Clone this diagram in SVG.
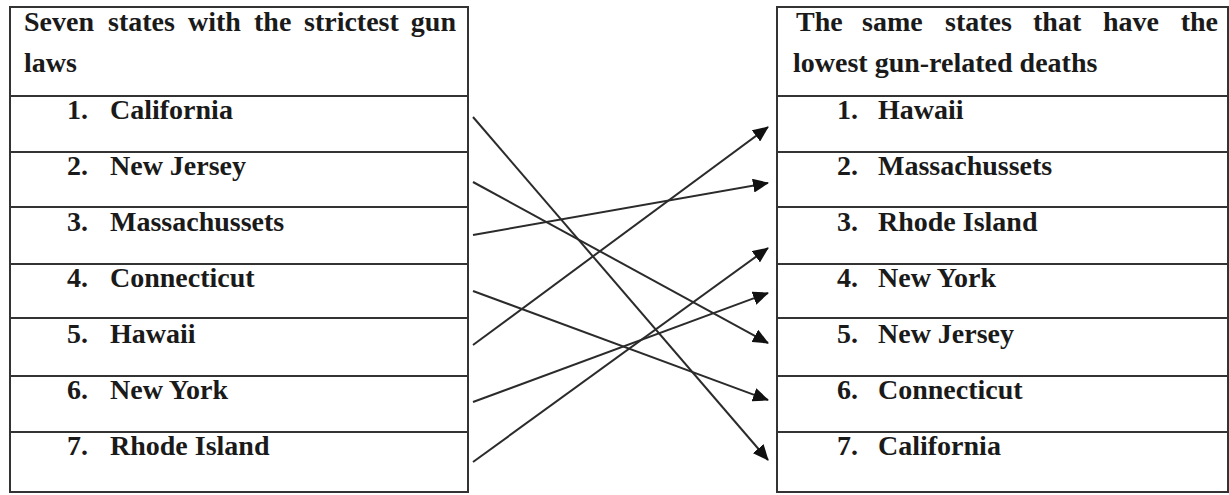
<svg xmlns="http://www.w3.org/2000/svg" width="1229" height="495" viewBox="0 0 1229 495">
<style>
.t{font-family:"Liberation Serif","Times New Roman",serif;font-weight:bold;font-size:28px;fill:#1a1a1a}
.b{fill:none;stroke:#333;stroke-width:2}
.c{stroke:#2b2b2b;stroke-width:2;fill:none}
</style>
<defs>
<marker id="ah" markerUnits="userSpaceOnUse" markerWidth="16" markerHeight="14" refX="15" refY="7" orient="auto">
<path d="M0,0 L16,7 L0,14 Z" fill="#111"/>
</marker>
</defs>
<rect width="1229" height="495" fill="#fff"/>
<g id="left-table">
<rect class="b" x="10" y="7" width="458" height="485"/>
<path class="b" d="M10,96H468M10,152H468M10,207H468M10,264H468M10,318H468M10,376H468M10,432H468"/>
<g id="left-header">
<text class="t" x="24" y="31">Seven</text>
<text class="t" x="108" y="31">states</text>
<text class="t" x="188" y="31">with</text>
<text class="t" x="254" y="31">the</text>
<text class="t" x="304" y="31">strictest</text>
<text class="t" x="456" y="31" text-anchor="end">gun</text>
<text class="t" x="24" y="72">laws</text>
</g>
<g id="L1"><text class="t" x="67" y="119">1.</text><text class="t" x="110" y="119">California</text></g>
<g id="L2"><text class="t" x="67" y="175">2.</text><text class="t" x="110" y="175">New Jersey</text></g>
<g id="L3"><text class="t" x="67" y="231">3.</text><text class="t" x="110" y="231">Massachussets</text></g>
<g id="L4"><text class="t" x="67" y="287">4.</text><text class="t" x="110" y="287">Connecticut</text></g>
<g id="L5"><text class="t" x="67" y="343">5.</text><text class="t" x="110" y="343">Hawaii</text></g>
<g id="L6"><text class="t" x="67" y="399">6.</text><text class="t" x="110" y="399">New York</text></g>
<g id="L7"><text class="t" x="67" y="455">7.</text><text class="t" x="110" y="455">Rhode Island</text></g>
</g>
<g id="right-table">
<rect class="b" x="777" y="7" width="451" height="485"/>
<path class="b" d="M777,96H1228M777,152H1228M777,207H1228M777,264H1228M777,318H1228M777,376H1228M777,432H1228"/>
<g id="right-header">
<text class="t" x="796" y="31">The</text>
<text class="t" x="862" y="31">same</text>
<text class="t" x="945" y="31">states</text>
<text class="t" x="1033" y="31">that</text>
<text class="t" x="1103" y="31">have</text>
<text class="t" x="1218" y="31" text-anchor="end">the</text>
<text class="t" x="793" y="72">lowest gun-related deaths</text>
</g>
<g id="R1"><text class="t" x="837" y="119">1.</text><text class="t" x="878" y="119">Hawaii</text></g>
<g id="R2"><text class="t" x="837" y="175">2.</text><text class="t" x="878" y="175">Massachussets</text></g>
<g id="R3"><text class="t" x="837" y="231">3.</text><text class="t" x="878" y="231">Rhode Island</text></g>
<g id="R4"><text class="t" x="837" y="287">4.</text><text class="t" x="878" y="287">New York</text></g>
<g id="R5"><text class="t" x="837" y="343">5.</text><text class="t" x="878" y="343">New Jersey</text></g>
<g id="R6"><text class="t" x="837" y="399">6.</text><text class="t" x="878" y="399">Connecticut</text></g>
<g id="R7"><text class="t" x="837" y="455">7.</text><text class="t" x="878" y="455">California</text></g>
</g>
<g id="connectors">
<line class="c" x1="473" y1="117" x2="768" y2="460" marker-end="url(#ah)"/>
<line class="c" x1="473" y1="182" x2="768" y2="343" marker-end="url(#ah)"/>
<line class="c" x1="473" y1="235" x2="768" y2="183" marker-end="url(#ah)"/>
<line class="c" x1="473" y1="291" x2="768" y2="400" marker-end="url(#ah)"/>
<line class="c" x1="473" y1="345" x2="768" y2="127" marker-end="url(#ah)"/>
<line class="c" x1="473" y1="402" x2="768" y2="293" marker-end="url(#ah)"/>
<line class="c" x1="473" y1="462" x2="768" y2="248" marker-end="url(#ah)"/>
</g>
</svg>
